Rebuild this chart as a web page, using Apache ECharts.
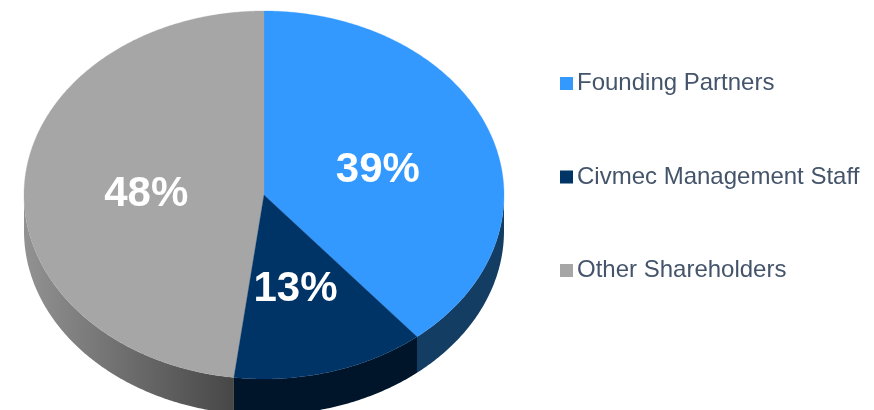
<!DOCTYPE html>
<html><head><meta charset="utf-8">
<style>html,body{margin:0;padding:0;background:#fff}#c{width:874px;height:410px}</style>
<script src="https://cdn.jsdelivr.net/npm/echarts@6/dist/echarts.min.js"></script>
</head><body><div id="c"></div>
<script>
var names = ['Founding Partners', 'Civmec Management Staff', 'Other Shareholders'];
var values = [39, 13, 48];
var topColors = ['#3399ff', '#003366', '#a6a6a6'];
var wallColors = [
  '#133d63',
  '#00152a',
  {type:'linear', x:0, y:0, x2:1, y2:0, colorStops:[{offset:0,color:'#929292'},{offset:1,color:'#474747'}]}
];
var CX = 264, CY = 195, RX = 240, RY = 184, DEPTH = 36;
var labelNudge = [[0, 2], [-3, 1], [1, 0]];
var total = values.reduce(function (a, b) { return a + b; }, 0);
function pt(deg, dy) {
  var r = deg * Math.PI / 180;
  return [CX + RX * Math.sin(r), CY - RY * Math.cos(r) + (dy || 0)];
}
function arc(a, b, dy) {
  var out = [], n = Math.max(2, Math.ceil(Math.abs(b - a) * 2));
  for (var i = 0; i <= n; i++) out.push(pt(a + (b - a) * i / n, dy));
  return out;
}
function startOf(idx) {
  var s = 0;
  for (var i = 0; i < idx; i++) s += values[i];
  return s / total * 360;
}
function makeRender(idx) {
  return function (params, api) {
    var v = api.value(0);
    var a = startOf(idx), b = a + v / total * 360;
    var kids = [];
    var wa = Math.max(a, 90), wb = Math.min(b, 270);
    if (wb > wa) {
      var wall = arc(wa, wb, 0).concat(arc(wb, wa, DEPTH));
      kids.push({type:'polygon', z2:1, shape:{points:wall}, style:{fill:wallColors[idx], stroke:null}});
    }
    var top = [[CX, CY]].concat(arc(a, b, 0));
    kids.push({type:'polygon', z2:2, shape:{points:top}, style:{fill:topColors[idx], stroke:topColors[idx], lineWidth:0.3}});
    var mid = pt((a + b) / 2, 0);
    kids.push({type:'text', z2:5, style:{
      x:(CX + mid[0]) / 2 + 1 + labelNudge[idx][0], y:(CY + mid[1]) / 2 + 5 + labelNudge[idx][1],
      text:v + '%', align:'center', verticalAlign:'middle',
      fill:'#ffffff', font:'bold 42px "Liberation Sans", Arial, sans-serif'
    }});
    return {type:'group', children:kids};
  };
}
var series = names.map(function (n, i) {
  return {
    type:'custom', name:n, coordinateSystem:'none', silent:true, z:2 + (i === 1 ? 1 : 0),
    itemStyle:{color:topColors[i]},
    data:[[values[i]]], renderItem:makeRender(i), animation:false
  };
});
var chart = echarts.init(document.getElementById('c'), null, {renderer:'canvas'});
chart.setOption({
  backgroundColor:'#ffffff',
  animation:false,
  legend:{
    data:names, orient:'vertical', left:560, top:71.5, selectedMode:false,
    icon:'rect', itemWidth:13, itemHeight:13, itemGap:69.5, padding:0,
    textStyle:{color:'#44546a', fontSize:24, fontFamily:'"Liberation Sans", Arial, sans-serif', padding:[0,0,0,-1]}
  },
  series:series
});
</script></body></html>
